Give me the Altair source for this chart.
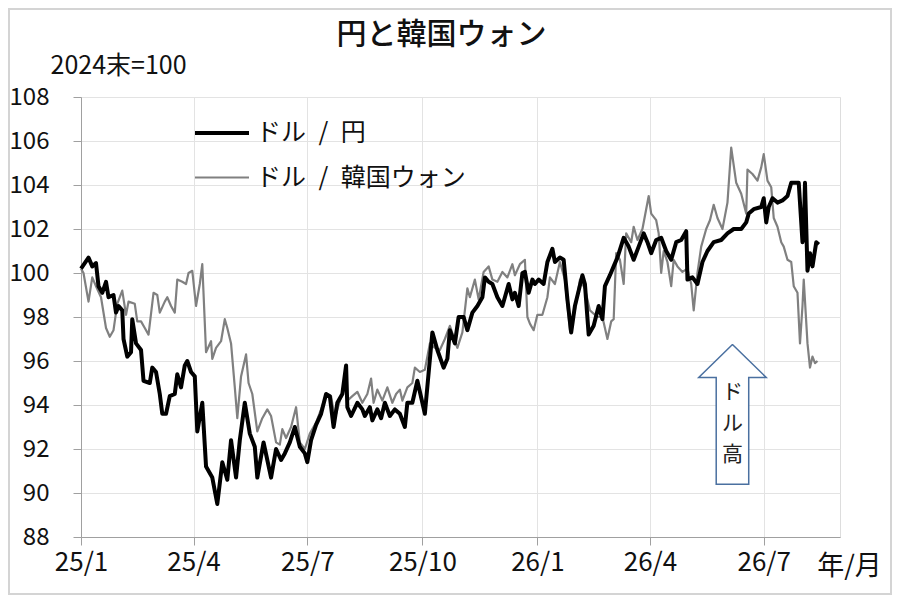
import altair as alt
import pandas as pd

# ---------------- data ----------------
yen_dates = [
    "2025-01-01", "2025-01-07", "2025-01-10", "2025-01-13", "2025-01-15", "2025-01-18", "2025-01-21", "2025-01-23",
    "2025-01-27", "2025-01-29", "2025-01-31", "2025-02-03", "2025-02-04", "2025-02-07", "2025-02-10", "2025-02-11",
    "2025-02-14", "2025-02-18", "2025-02-20", "2025-02-25", "2025-02-27", "2025-03-02", "2025-03-05", "2025-03-07",
    "2025-03-10", "2025-03-13", "2025-03-17", "2025-03-19", "2025-03-22", "2025-03-25", "2025-03-27", "2025-03-30",
    "2025-04-02", "2025-04-04", "2025-04-08", "2025-04-11", "2025-04-16", "2025-04-20", "2025-04-24", "2025-04-28",
    "2025-05-01", "2025-05-05", "2025-05-08", "2025-05-12", "2025-05-16", "2025-05-20", "2025-05-22", "2025-05-27",
    "2025-05-30", "2025-06-02", "2025-06-06", "2025-06-10", "2025-06-13", "2025-06-17", "2025-06-21", "2025-06-25",
    "2025-06-29", "2025-07-01", "2025-07-04", "2025-07-08", "2025-07-12", "2025-07-16", "2025-07-19", "2025-07-22",
    "2025-07-25", "2025-07-29", "2025-08-01", "2025-08-02", "2025-08-05", "2025-08-10", "2025-08-14", "2025-08-16",
    "2025-08-20", "2025-08-22", "2025-08-26", "2025-08-29", "2025-09-01", "2025-09-05", "2025-09-09", "2025-09-13",
    "2025-09-17", "2025-09-19", "2025-09-23", "2025-09-27", "2025-10-03", "2025-10-09", "2025-10-13", "2025-10-18",
    "2025-10-21", "2025-10-23", "2025-10-27", "2025-10-30", "2025-11-03", "2025-11-06", "2025-11-10", "2025-11-14",
    "2025-11-18", "2025-11-20", "2025-11-23", "2025-11-26", "2025-11-30", "2025-12-04", "2025-12-06", "2025-12-09",
    "2025-12-12", "2025-12-14", "2025-12-17", "2025-12-20", "2025-12-22", "2025-12-25", "2025-12-28", "2025-12-30",
    "2026-01-02", "2026-01-06", "2026-01-09", "2026-01-13", "2026-01-15", "2026-01-19", "2026-01-22", "2026-01-25",
    "2026-01-28", "2026-01-31", "2026-02-03", "2026-02-06", "2026-02-08", "2026-02-11", "2026-02-15", "2026-02-19",
    "2026-02-22", "2026-02-24", "2026-02-28", "2026-03-03", "2026-03-06", "2026-03-11", "2026-03-15", "2026-03-19",
    "2026-03-23", "2026-03-27", "2026-03-30", "2026-04-02", "2026-04-06", "2026-04-10", "2026-04-14", "2026-04-18",
    "2026-04-22", "2026-04-26", "2026-04-30", "2026-05-01", "2026-05-05", "2026-05-09", "2026-05-13", "2026-05-17",
    "2026-05-22", "2026-05-28", "2026-06-02", "2026-06-07", "2026-06-13", "2026-06-17", "2026-06-19", "2026-06-23",
    "2026-06-29", "2026-07-01", "2026-07-03", "2026-07-05", "2026-07-08", "2026-07-12", "2026-07-16", "2026-07-20",
    "2026-07-23", "2026-07-29", "2026-08-01", "2026-08-02", "2026-08-03", "2026-08-05", "2026-08-07", "2026-08-09",
    "2026-08-12", "2026-08-14",
]
yen_values = [
    100.2, 100.7, 100.3, 100.45, 99.4, 99.1, 99.6, 98.9,
    99.0, 98.2, 98.5, 98.3, 97.0, 96.2, 96.4, 97.9,
    96.8, 96.5, 95.1, 95.0, 95.7, 95.5, 94.5, 93.6,
    93.6, 94.4, 94.5, 95.4, 94.8, 95.8, 96.0, 95.5,
    95.3, 92.8, 94.1, 91.2, 90.7, 89.5, 91.4, 90.6,
    92.4, 90.7, 92.4, 94.1, 92.7, 92.1, 90.7, 92.3,
    91.5, 90.7, 92.0, 91.5, 91.8, 92.3, 93.0, 92.1,
    91.8, 91.4, 92.4, 93.1, 93.6, 94.5, 94.4, 93.0,
    94.1, 94.5, 95.8, 93.9, 93.5, 94.1, 93.8, 93.5,
    93.9, 93.3, 93.8, 93.4, 94.1, 93.5, 93.8, 93.6,
    93.0, 94.1, 94.1, 95.1, 93.6, 97.3, 96.5, 95.7,
    96.1, 97.4, 96.8, 98.0, 98.0, 97.4, 98.2, 98.5,
    98.9, 99.8, 99.6, 99.5, 98.9, 98.5, 98.9, 99.5,
    98.8, 99.1, 98.5, 100.0, 100.05, 99.1, 99.7, 99.5,
    99.7, 99.5, 100.5, 101.1, 100.5, 100.7, 100.6, 98.8,
    97.3, 98.5, 99.2, 99.9, 99.5, 97.2, 97.6, 98.5,
    97.9, 99.4, 99.9, 100.3, 100.7, 101.6, 101.2, 100.6,
    101.2, 101.8, 101.4, 100.9, 101.5, 101.6, 101.0, 100.6,
    101.4, 101.5, 101.9, 99.7, 99.8, 99.5, 100.5, 101.0,
    101.4, 101.5, 101.8, 102.0, 102.0, 102.3, 102.7, 102.9,
    103.0, 103.4, 102.3, 103.0, 103.4, 103.2, 103.3, 103.5,
    104.1, 104.1, 101.4, 101.8, 104.1, 100.1, 100.9, 100.3,
    101.4, 101.3,
]

won_dates = [
    "2025-01-01", "2025-01-03", "2025-01-07", "2025-01-10", "2025-01-13", "2025-01-17", "2025-01-21", "2025-01-24",
    "2025-01-27", "2025-01-30", "2025-02-03", "2025-02-06", "2025-02-08", "2025-02-13", "2025-02-15", "2025-02-18",
    "2025-02-21", "2025-02-24", "2025-02-28", "2025-03-03", "2025-03-05", "2025-03-09", "2025-03-11", "2025-03-14",
    "2025-03-17", "2025-03-19", "2025-03-23", "2025-03-26", "2025-03-28", "2025-03-31", "2025-04-03", "2025-04-06",
    "2025-04-08", "2025-04-11", "2025-04-15", "2025-04-16", "2025-04-19", "2025-04-23", "2025-04-26", "2025-04-28",
    "2025-05-01", "2025-05-04", "2025-05-06", "2025-05-09", "2025-05-13", "2025-05-15", "2025-05-18", "2025-05-22",
    "2025-05-26", "2025-05-30", "2025-06-02", "2025-06-06", "2025-06-09", "2025-06-11", "2025-06-14", "2025-06-18",
    "2025-06-22", "2025-06-25", "2025-06-29", "2025-07-03", "2025-07-08", "2025-07-12", "2025-07-16", "2025-07-20",
    "2025-07-23", "2025-07-27", "2025-07-31", "2025-08-02", "2025-08-06", "2025-08-10", "2025-08-14", "2025-08-18",
    "2025-08-21", "2025-08-23", "2025-08-26", "2025-08-30", "2025-09-03", "2025-09-07", "2025-09-10", "2025-09-13",
    "2025-09-15", "2025-09-19", "2025-09-23", "2025-09-25", "2025-09-29", "2025-10-03", "2025-10-07", "2025-10-11",
    "2025-10-15", "2025-10-19", "2025-10-23", "2025-10-29", "2025-11-02", "2025-11-06", "2025-11-08", "2025-11-12",
    "2025-11-15", "2025-11-19", "2025-11-23", "2025-11-26", "2025-11-30", "2025-12-04", "2025-12-08", "2025-12-12",
    "2025-12-14", "2025-12-18", "2025-12-22", "2025-12-24", "2025-12-26", "2025-12-29", "2026-01-01", "2026-01-05",
    "2026-01-09", "2026-01-11", "2026-01-15", "2026-01-19", "2026-01-23", "2026-01-27", "2026-01-31", "2026-02-04",
    "2026-02-08", "2026-02-12", "2026-02-18", "2026-02-22", "2026-02-26", "2026-03-01", "2026-03-03", "2026-03-05",
    "2026-03-08", "2026-03-11", "2026-03-13", "2026-03-17", "2026-03-19", "2026-03-22", "2026-03-26", "2026-03-29",
    "2026-03-31", "2026-04-02", "2026-04-06", "2026-04-08", "2026-04-10", "2026-04-12", "2026-04-15", "2026-04-18",
    "2026-04-20", "2026-04-23", "2026-04-27", "2026-05-01", "2026-05-04", "2026-05-06", "2026-05-09", "2026-05-12",
    "2026-05-16", "2026-05-19", "2026-05-22", "2026-05-25", "2026-05-29", "2026-06-02", "2026-06-05", "2026-06-09",
    "2026-06-13", "2026-06-17", "2026-06-18", "2026-06-22", "2026-06-26", "2026-06-29", "2026-07-01", "2026-07-04",
    "2026-07-07", "2026-07-09", "2026-07-12", "2026-07-15", "2026-07-17", "2026-07-20", "2026-07-23", "2026-07-25",
    "2026-07-28", "2026-07-30", "2026-08-01", "2026-08-02", "2026-08-05", "2026-08-07", "2026-08-09", "2026-08-11",
    "2026-08-13",
]
won_values = [
    100.2, 100.0, 98.7, 99.8, 99.4, 98.9, 97.5, 97.1,
    97.4, 98.6, 99.2, 98.1, 98.7, 98.6, 97.8, 97.8,
    97.5, 97.2, 99.1, 99.0, 98.2, 98.7, 98.9, 98.5,
    98.2, 99.7, 99.6, 99.5, 100.0, 100.1, 98.5, 99.5,
    100.4, 96.4, 96.9, 96.1, 96.6, 96.9, 97.9, 97.5,
    96.8, 94.8, 93.4, 95.3, 96.3, 95.0, 94.5, 92.8,
    93.4, 93.8, 93.5, 92.3, 92.2, 92.9, 92.5, 93.0,
    93.9, 92.3, 92.0, 92.7, 93.2, 93.8, 94.5, 94.4,
    93.4, 94.2, 94.8, 94.2, 94.4, 94.6, 94.1, 94.5,
    95.2, 94.1, 94.7, 94.2, 94.8, 94.1, 94.5, 94.7,
    94.2, 94.8, 95.0, 95.7, 95.5, 95.6, 96.8, 96.6,
    96.5, 97.0, 97.6, 96.6, 97.3, 99.3, 98.9, 99.7,
    98.8, 100.05, 100.3, 99.7, 99.6, 100.05, 99.8, 100.4,
    99.9, 100.4, 100.6, 98.0, 97.7, 97.4, 98.1, 98.1,
    98.9, 99.8, 99.5, 100.5, 99.7, 97.4, 98.3, 99.7,
    99.3, 98.3, 98.0, 98.0, 97.0, 97.8, 97.9, 100.9,
    100.6, 99.5, 101.8, 101.4, 102.1, 101.5, 102.0, 102.9,
    103.5, 102.7, 102.4, 101.8, 100.0, 101.0, 100.5, 99.4,
    100.6, 100.3, 100.05, 100.2, 99.5, 98.3, 100.0, 101.2,
    102.0, 102.4, 103.1, 102.5, 102.0, 103.2, 105.7, 104.1,
    103.6, 102.7, 104.7, 104.5, 104.2, 104.8, 105.4, 104.2,
    103.9, 102.5, 102.1, 101.4, 101.2, 100.6, 100.5, 99.4,
    99.1, 96.8, 98.5, 99.7, 96.8, 95.7, 96.2, 95.9,
    96.0,
]

series_names = ["ドル\u2002/\u2002円", "ドル\u2002/\u2002韓国ウォン"]
series_colors = ["#000000", "#808080"]
series_widths = [4, 2.2]

x_domain = ["2025-01-01", "2026-08-31"]
x_ticks = ["2025-01-01", "2025-04-01", "2025-07-01", "2025-10-01",
           "2026-01-01", "2026-04-01", "2026-07-01"]
y_ticks = [88, 90, 92, 94, 96, 98, 100, 102, 104, 106, 108]

# up-arrow annotation outline (in data units) and its vertical label
arrow_dates = ["2026-06-06", "2026-07-03", "2026-06-19", "2026-06-19",
               "2026-05-24", "2026-05-24", "2026-05-10", "2026-06-06"]
arrow_values = [96.75, 95.25, 95.25, 90.4, 90.4, 95.25, 95.25, 96.75]
arrow_chars = ["ド", "ル", "高"]
arrow_char_values = [94.55, 93.15, 91.75]
arrow_label_date = "2026-06-06"

title_text = "円と韓国ウォン"
y_title = "2024末=100"
x_title = "年/月"

# ---------------- chart ----------------
FONT = "Noto Sans CJK JP, sans-serif"

df_yen = pd.DataFrame({"date": yen_dates, "value": yen_values, "series": series_names[0]})
df_won = pd.DataFrame({"date": won_dates, "value": won_values, "series": series_names[1]})
df_arrow = pd.DataFrame({"date": arrow_dates, "value": arrow_values,
                         "order": list(range(len(arrow_dates)))})
df_label = pd.DataFrame({"date": [arrow_label_date] * len(arrow_chars),
                         "value": arrow_char_values, "text": arrow_chars})

x_scale = alt.Scale(domain=x_domain, nice=False)
y_scale = alt.Scale(domain=[88, 108], nice=False, zero=False)

x_axis = alt.Axis(
    values=x_ticks, format="%y/%-m", grid=True, gridColor="#e3e3e3",
    domainColor="#a0a0a0", tickColor="#a0a0a0", tickSize=8, labelFlush=False,
    labelFontSize=26, labelPadding=4, labelColor="#111", labelFont=FONT,
    title=x_title, titleX=768, titleY=29, titleAlign="center", titleBaseline="middle",
    titleFontSize=27, titleFontWeight="normal", titleColor="#111", titleFont=FONT,
)
y_axis = alt.Axis(
    values=y_ticks, grid=True, gridColor="#e3e3e3",
    domainColor="#a0a0a0", tickColor="#a0a0a0", tickSize=8,
    labelFontSize=24, labelPadding=24, labelColor="#111", labelFont=FONT,
    title=y_title, titleAngle=0, titleX=-31, titleY=-32, titleAlign="left",
    titleBaseline="middle", titleFontSize=25, titleFontWeight="normal",
    titleColor="#111", titleFont=FONT,
)

legend = alt.Legend(
    orient="none", legendX=112, legendY=7, title=None, symbolType="stroke",
    symbolSize=2916, labelFontSize=25, labelFont=FONT, labelColor="#111",
    labelOffset=5, labelLimit=400, rowPadding=3, padding=0, direction="vertical",
)
color_enc = alt.Color("series:N", scale=alt.Scale(domain=series_names, range=series_colors),
                      legend=legend)
width_enc = alt.StrokeWidth("series:N", scale=alt.Scale(domain=series_names, range=series_widths),
                            legend=legend)

frame = alt.Chart(pd.DataFrame({"k": [0]})).mark_rect(
    fillOpacity=0, stroke="#d4d4d4", strokeWidth=2
).encode(x=alt.value(-72), x2=alt.value(810), y=alt.value(-88), y2=alt.value(497))

won_line = alt.Chart(df_won).mark_line(strokeJoin="round").encode(
    x=alt.X("date:T", scale=x_scale, axis=x_axis),
    y=alt.Y("value:Q", scale=y_scale, axis=y_axis),
    color=color_enc, strokeWidth=width_enc,
)
yen_line = alt.Chart(df_yen).mark_line(strokeJoin="round").encode(
    x=alt.X("date:T", scale=x_scale),
    y=alt.Y("value:Q", scale=y_scale),
    color=color_enc, strokeWidth=width_enc,
)

arrow = alt.Chart(df_arrow).mark_line(
    stroke="#4a70a0", strokeWidth=1.5, fill="white", strokeJoin="miter"
).encode(
    x=alt.X("date:T", scale=x_scale),
    y=alt.Y("value:Q", scale=y_scale),
    order="order:Q",
)
arrow_text = alt.Chart(df_label).mark_text(
    font=FONT, fontSize=21, color="#222", baseline="middle", align="center"
).encode(
    x=alt.X("date:T", scale=x_scale),
    y=alt.Y("value:Q", scale=y_scale),
    text="text:N",
)

chart = alt.layer(frame, won_line, yen_line, arrow, arrow_text).properties(
    width=759, height=440,
    padding={"left": 73, "top": 89, "right": 52, "bottom": 58},
    autosize=alt.AutoSizeParams(type="none"),
    title=alt.TitleParams(title_text, font=FONT, fontSize=30, fontWeight=500,
                          color="#111", anchor="middle", dx=-19, offset=-42),
).configure_view(stroke=None).configure(background="white")

chart.save("out.html", embed_options={"renderer": "svg", "actions": False})
